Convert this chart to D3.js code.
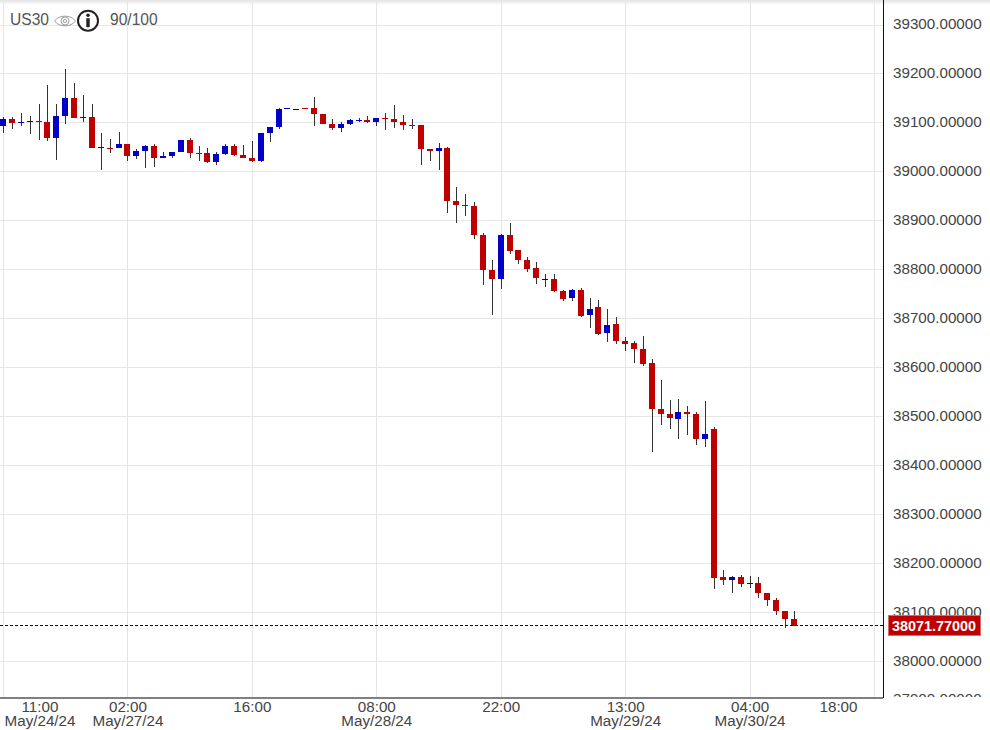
<!DOCTYPE html>
<html>
<head>
<meta charset="utf-8">
<script src="https://cdn.jsdelivr.net/npm/d3@7"></script>
<style>
html,body{margin:0;padding:0;background:#fff;overflow:hidden}
svg{display:block}
text{font-family:"Liberation Sans",Arial,sans-serif}
</style>
</head>
<body>
<svg id="chart" width="990" height="730"></svg>
<script>
const symbol = "US30";
const score = "90/100";
const lastPrice = 38071.77;
const priceTicks = [39300,39200,39100,39000,38900,38800,38700,38600,38500,38400,38300,38200,38100,38000,37900];
const timeTickIndex = [0,14,28,42,56,70,84,98];
const timeLabels = ["11:00","02:00","16:00","08:00","22:00","13:00","04:00","18:00"];
const dateLabels = ["May/24/24","May/27/24","","May/28/24","","May/29/24","May/30/24",""];

const opens = [39093,39107,39099,39101,39103,39101,39068,39113,39150,39109,39111,39048,39048,39048,39056,39031,39041,39052,39027,39031,39039,39064,39037,39037,39019,39035,39052,39033,39027,39021,39078,39090,39127,39128,
39129,39129,39117,39097,39088,39097,39103,39105,39101,39109,39107,39101,39095,39095,39045,39041,39048,38939,38931,38929,38870,38798,38780,38870,
38839,38819,38803,38781,38780,38756,38741,38758,38707,38723,38670,38688,38653,38649,38637,38608,38514,38504,38494,38508,38504,38453,
38474,38172,38165,38172,38157,38159,38139,38125,38102,38086];
const highs = [39111,39111,39119,39113,39137,39176,39137,39209,39180,39156,39137,39078,39066,39080,39056,39045,39054,39056,39039,39039,39064,39068,39052,39048,39039,39056,39056,39054,39062,39078,39090,39129,39129,39128,
39129,39152,39117,39107,39101,39107,39109,39113,39109,39119,39135,39115,39107,39095,39045,39058,39050,38968,38954,38937,38874,38819,38872,38894,
38839,38825,38815,38790,38790,38758,38760,38762,38741,38737,38719,38702,38662,38653,38664,38617,38574,38533,38535,38521,38508,38531,
38478,38186,38174,38176,38174,38172,38139,38129,38102,38102];
const lows = [39078,39086,39093,39076,39064,39062,39023,39097,39109,39101,39048,39003,39037,39048,39021,39025,39007,39009,39027,39027,39039,39027,39021,39017,39013,39033,39031,39027,39019,39019,39060,39086,39127,39128,
39127,39093,39097,39084,39080,39095,39101,39099,39093,39084,39088,39084,39086,39013,39021,39003,38915,38894,38909,38862,38768,38706,38759,38831,
38811,38794,38770,38764,38754,38735,38735,38702,38680,38666,38651,38647,38633,38608,38602,38426,38482,38474,38453,38461,38441,38437,
38147,38155,38139,38151,38149,38129,38112,38094,38067,38071.77];
const closes = [39107,39099,39101,39103,39101,39068,39113,39150,39109,39111,39048,39050,39045,39056,39031,39041,39052,39027,39031,39039,39064,39037,39035,39019,39035,39052,39033,39027,39021,39078,39090,39127,39129,39128,
39127,39117,39097,39088,39097,39105,39105,39101,39109,39107,39101,39095,39093,39045,39041,39048,38939,38931,38929,38870,38798,38780,38870,38837,
38819,38801,38782,38781,38756,38739,38758,38704,38719,38668,38686,38653,38647,38637,38606,38514,38504,38496,38508,38504,38453,38463,
38170,38165,38172,38157,38159,38139,38125,38102,38086,38071.77];

const UP = "#0000c8", DOWN = "#c00000", DOJI = "#111";
const FONT = '"Liberation Sans",Arial,sans-serif';
const svg = d3.select("#chart");
const plotRight = 883, plotBottom = 697;

const x = d3.scaleLinear().domain([0,98]).range([3.5,874.5]);
const y = d3.scaleLinear().domain([38000,39300]).range([661.5,25]);
const py = v => Math.floor(y(v));

const defs = svg.append("defs");
defs.append("clipPath").attr("id","axisClip").append("rect")
  .attr("x",884).attr("y",0).attr("width",106).attr("height",697);
const grad = defs.append("linearGradient").attr("id","topShade").attr("x1",0).attr("x2",0).attr("y1",0).attr("y2",1);
grad.append("stop").attr("offset",0).attr("stop-color","#e4e4e4");
grad.append("stop").attr("offset",1).attr("stop-color","#ffffff");

// top shading
svg.append("rect").attr("x",0).attr("y",0).attr("width",990).attr("height",5).attr("fill","url(#topShade)");

// grid
const grid = svg.append("g").attr("stroke","#e6e6e6").attr("stroke-width",1).attr("shape-rendering","crispEdges");
grid.selectAll("line.h").data(priceTicks.filter(t=>y(t)<plotBottom)).join("line").attr("class","h")
  .attr("x1",0).attr("x2",plotRight).attr("y1",d=>py(d)+.5).attr("y2",d=>py(d)+.5);
grid.selectAll("line.v").data(timeTickIndex).join("line").attr("class","v")
  .attr("y1",0).attr("y2",plotBottom).attr("x1",d=>Math.floor(x(d))+.5).attr("x2",d=>Math.floor(x(d))+.5);

// candles
const idx = d3.range(opens.length);
const candles = svg.append("g").attr("shape-rendering","crispEdges");
const colorOf = i => closes[i]>opens[i] ? UP : closes[i]<opens[i] ? DOWN : DOJI;
candles.selectAll("line.wick").data(idx).join("line")
  .attr("class","wick")
  .attr("x1",i=>Math.floor(x(i))+.5).attr("x2",i=>Math.floor(x(i))+.5)
  .attr("y1",i=>py(highs[i])).attr("y2",i=>py(lows[i]))
  .attr("stroke","#333").attr("stroke-width",1);
candles.selectAll("rect.body").data(idx).join("rect")
  .attr("class","body")
  .attr("x",i=>Math.floor(x(i))-3).attr("width",6)
  .attr("y",i=>py(Math.max(opens[i],closes[i])))
  .attr("height",i=>Math.max(1,py(Math.min(opens[i],closes[i]))-py(Math.max(opens[i],closes[i]))))
  .attr("fill",colorOf);

// last price dashed line
svg.append("line").attr("x1",0).attr("x2",plotRight)
  .attr("y1",py(lastPrice)-.5).attr("y2",py(lastPrice)-.5)
  .attr("stroke","#111").attr("stroke-width",1).attr("stroke-dasharray","3,2").attr("shape-rendering","crispEdges");

// axis frame
svg.append("line").attr("x1",883.5).attr("x2",883.5).attr("y1",0).attr("y2",698)
  .attr("stroke","#111").attr("stroke-width",1).attr("shape-rendering","crispEdges");
svg.append("line").attr("x1",0).attr("x2",883).attr("y1",698).attr("y2",698)
  .attr("stroke","#808080").attr("stroke-width",2).attr("shape-rendering","crispEdges");

// price axis
const yAxis = d3.axisRight(y).tickValues(priceTicks).tickSize(0).tickPadding(0).tickFormat(d=>d3.format(".5f")(d));
const clipWrap = svg.append("g").attr("clip-path","url(#axisClip)");
const gy = clipWrap.append("g").attr("transform","translate(893,0)").call(yAxis);
gy.select(".domain").remove();
gy.selectAll("text").attr("font-size",15.2).attr("font-family",FONT).attr("fill","#444").attr("x",0)
  .attr("dy","3.5").attr("y",d=>d===37900 ? -10.5 : 0);

// last price tag
svg.append("rect").attr("x",888.5).attr("y",615.5).attr("width",92).attr("height",20)
  .attr("fill","#c00000").attr("stroke","#d86a6a").attr("stroke-width",1);
svg.append("text").attr("x",892).attr("y",630.5).attr("font-size",14.4).attr("font-weight","bold")
  .attr("fill","#fff").text(d3.format(".5f")(lastPrice));

// time axis
const labelShift = d => d===0 ? 36.5 : d===98 ? -36 : 0;
const xAxis = d3.axisBottom(x).tickValues(timeTickIndex).tickSize(0).tickPadding(0).tickFormat((d,i)=>timeLabels[i]);
const gx = svg.append("g").attr("transform","translate(-0.5,700)").call(xAxis);
gx.select(".domain").remove();
gx.selectAll("text").attr("font-size",15.2).attr("font-family",FONT).attr("fill","#444")
  .attr("y",0).attr("dy","12").attr("text-anchor","middle").attr("x",labelShift);
gx.selectAll(".tick").filter((d,i)=>dateLabels[i]!=="").append("text")
  .attr("font-size",15.2).attr("font-family",FONT).attr("fill","#444")
  .attr("y",26).attr("text-anchor","middle").attr("x",labelShift)
  .text(d=>dateLabels[timeTickIndex.indexOf(d)]);

// header
svg.append("text").attr("x",10).attr("y",25).attr("font-size",15.6).attr("fill","#555").text(symbol);
const eye = svg.append("g").attr("transform","translate(65,21)").attr("fill","none").attr("stroke","#a0a0a0").attr("stroke-width",1);
eye.append("path").attr("d","M-10.5,0 C-6,-6.5 6,-6.5 10.5,0 C6,6.5 -6,6.5 -10.5,0 Z");
eye.append("circle").attr("r",4);
eye.append("circle").attr("r",1.6);
const info = svg.append("g").attr("transform","translate(88,20.7)");
info.append("circle").attr("r",10).attr("fill","#fff").attr("stroke","#222").attr("stroke-width",2);
info.append("circle").attr("cy",-5.5).attr("r",1.8).attr("fill","#222");
info.append("rect").attr("x",-1.7).attr("y",-2.5).attr("width",3.4).attr("height",9).attr("fill","#222");
svg.append("text").attr("x",110).attr("y",25).attr("font-size",15.6).attr("fill","#555").text(score);
</script>
</body>
</html>
